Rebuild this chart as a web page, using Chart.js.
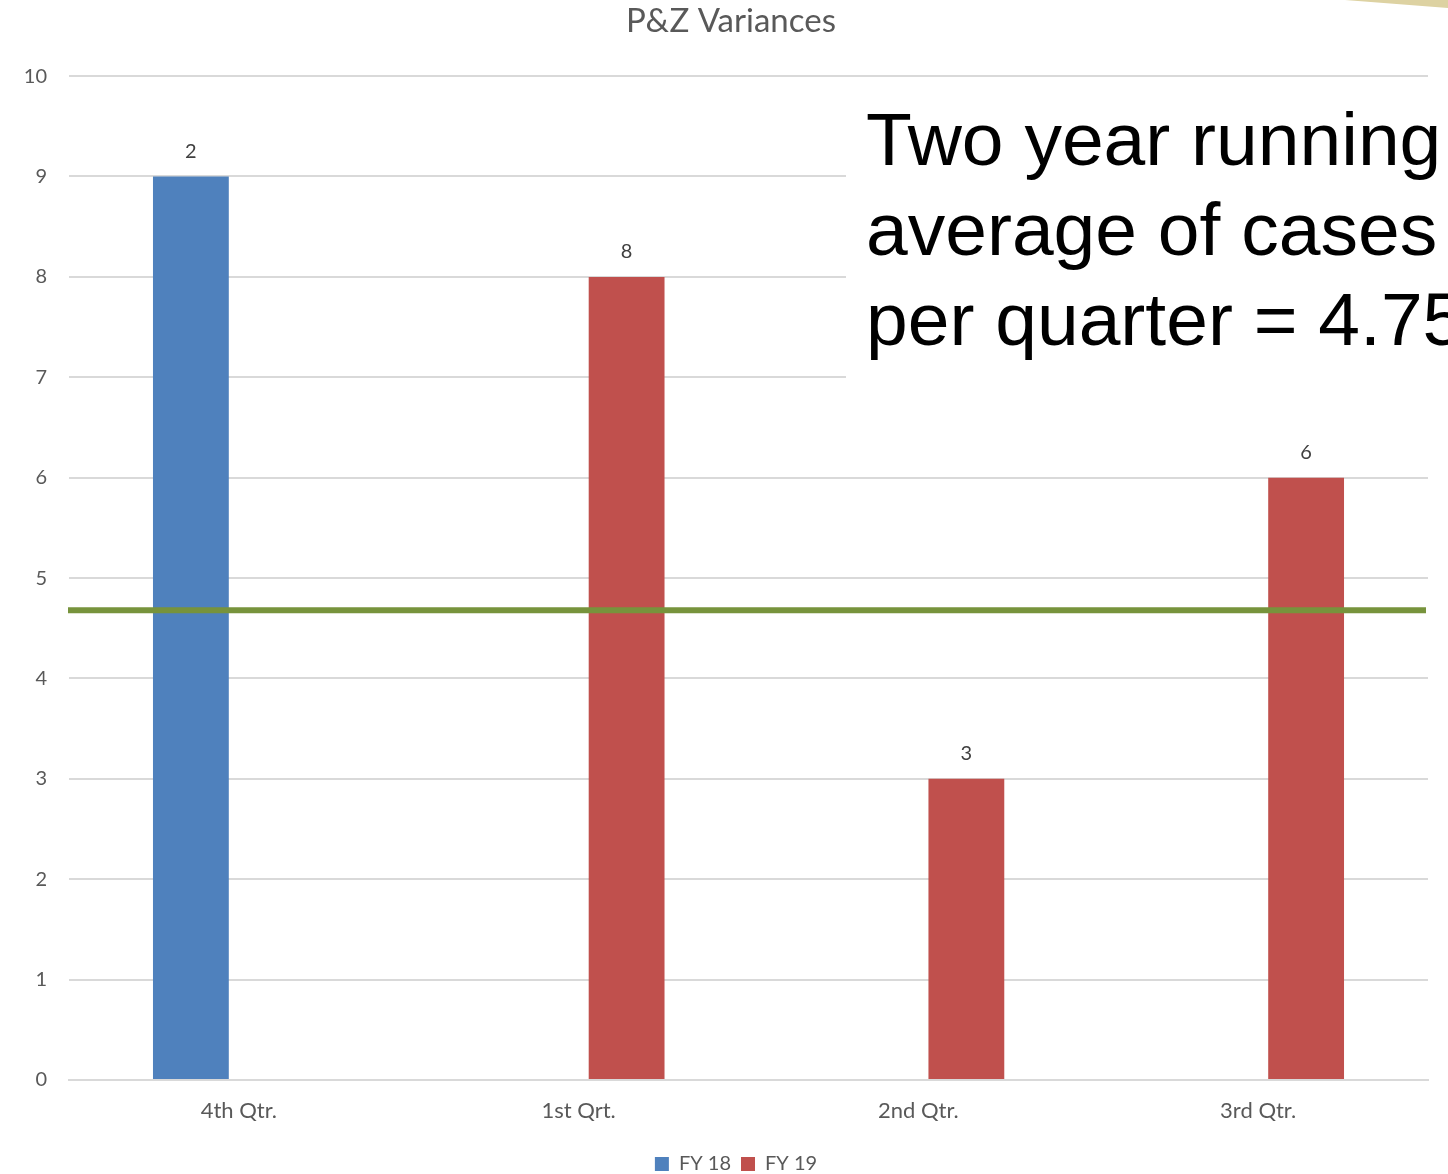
<!DOCTYPE html>
<html>
<head>
<meta charset="utf-8">
<title>P&amp;Z Variances</title>
<script src="https://cdn.jsdelivr.net/npm/chart.js@4/dist/chart.umd.min.js"></script>
<style>
    html, body { margin: 0; padding: 0; background: #fff; overflow: hidden; }
    /* canvas cao hơn cửa sổ một chút để chú giải nằm sát mép dưới */
    #wrap { width: 1448px; height: 1184px; position: relative; }
</style>
</head>
<body>
<div id="wrap"><canvas id="chart"></canvas></div>
<script>
// dữ liệu
const quarters = ['4th Qtr.', '1st Qrt.', '2nd Qtr.', '3rd Qtr.'];
const fy18 = [9, null, null, null];
const fy19 = [null, 8, 3, 6];
// nhãn hiển thị trên cột (bản gốc ghi "2" trên cột FY 18)
const fy18Labels = ['2', '', '', ''];
const fy19Labels = ['', '8', '3', '6'];
const yTicks = [0, 1, 2, 3, 4, 5, 6, 7, 8, 9, 10];
const runningAvg = 4.68;
const noteLines = ['Two year running', 'average of cases', 'per quarter = 4.75'];

const grey = '#595959';
const baseFont = 'Lato, "Open Sans", sans-serif';

// vẽ nhãn giá trị trên đầu cột
const barLabels = {
    id: 'barLabels',
    afterDatasetsDraw(chart) {
        const ctx = chart.ctx;
        const labelSets = [fy18Labels, fy19Labels];
        ctx.save();
        ctx.font = '20px ' + baseFont;
        ctx.fillStyle = '#404040';
        ctx.textAlign = 'center';
        ctx.textBaseline = 'middle';
        chart.data.datasets.forEach((ds, i) => {
            const meta = chart.getDatasetMeta(i);
            meta.data.forEach((bar, j) => {
                if (ds.data[j] === null) return;
                ctx.fillText(labelSets[i][j], bar.x, bar.y - 25);
            });
        });
        ctx.restore();
    }
};

// đường trung bình màu xanh lá
const avgLine = {
    id: 'avgLine',
    afterDatasetsDraw(chart) {
        const ctx = chart.ctx;
        const area = chart.chartArea;
        const y = chart.scales.y.getPixelForValue(runningAvg);
        ctx.save();
        ctx.strokeStyle = '#77933c';
        ctx.lineWidth = 6;
        ctx.beginPath();
        ctx.moveTo(area.left - 1, y);
        ctx.lineTo(area.right - 2, y);
        ctx.stroke();
        ctx.restore();
    }
};

// dời tiêu đề và chú giải sang phải cho giống bản gốc
const shiftBoxes = {
    id: 'shiftBoxes',
    afterLayout(chart) {
        if (chart.titleBlock) {
            chart.titleBlock.left += 17;
            chart.titleBlock.right += 17;
        }
        if (chart.legend) {
            chart.legend.left += 22;
            chart.legend.right += 22;
        }
    }
};

// hộp chữ chú thích và góc trang trí
const noteBox = {
    id: 'noteBox',
    afterDraw(chart) {
        const ctx = chart.ctx;
        ctx.save();
        ctx.fillStyle = '#ffffff';
        ctx.fillRect(846, 90, 620, 300);
        ctx.fillStyle = '#000000';
        ctx.font = '75px "Liberation Sans", Arial, sans-serif';
        ctx.textAlign = 'left';
        ctx.textBaseline = 'alphabetic';
        noteLines.forEach((line, i) => {
            ctx.fillText(line, 866, 165 + i * 90);
        });
        ctx.fillStyle = '#ddd2a2';
        ctx.beginPath();
        ctx.moveTo(1345, 0);
        ctx.lineTo(1448, 0);
        ctx.lineTo(1448, 8);
        ctx.closePath();
        ctx.fill();
        ctx.restore();
    }
};

const ctx = document.getElementById('chart');
new Chart(ctx, {
    type: 'bar',
    data: {
        labels: quarters,
        datasets: [
            { label: 'FY 18', data: fy18, backgroundColor: '#4f81bd' },
            { label: 'FY 19', data: fy19, backgroundColor: '#c0504d' }
        ]
    },
    options: {
        responsive: true,
        maintainAspectRatio: false,
        animation: false,
        categoryPercentage: 0.565,
        barPercentage: 0.79,
        layout: { padding: { left: 0, right: 20, top: 0, bottom: 0 } },
        scales: {
            x: {
                grid: { display: false },
                border: { color: '#d9d9d9', width: 2 },
                ticks: { color: grey, font: { size: 22, family: baseFont }, padding: 10 },
                afterFit: (scale) => { scale.height = 64; }
            },
            y: {
                min: 0,
                max: 10,
                afterBuildTicks: (scale) => { scale.ticks = yTicks.map(v => ({ value: v })); },
                grid: { color: '#d9d9d9', lineWidth: 2, drawTicks: false },
                border: { display: false },
                ticks: { color: grey, font: { size: 20, family: baseFont }, padding: 22 },
                afterFit: (scale) => { scale.width = 69; }
            }
        },
        plugins: {
            title: {
                display: true,
                text: 'P&Z Variances',
                color: grey,
                font: { size: 33, family: baseFont, weight: 'normal' },
                padding: { top: 2, bottom: 34.5 }
            },
            legend: {
                position: 'bottom',
                labels: {
                    color: grey,
                    font: { size: 20, family: baseFont },
                    boxWidth: 14,
                    boxHeight: 14,
                    padding: 10
                }
            },
            tooltip: { enabled: false }
        }
    },
    plugins: [barLabels, avgLine, shiftBoxes, noteBox]
});
</script>
</body>
</html>
